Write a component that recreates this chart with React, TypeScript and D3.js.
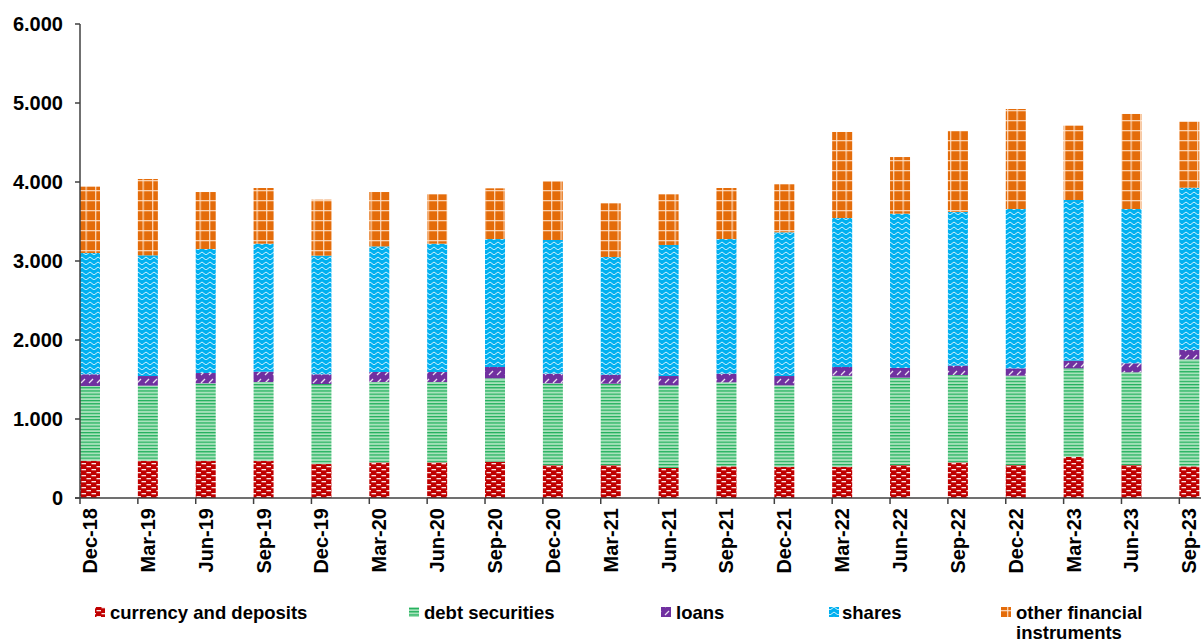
import React from "react";
import * as d3 from "d3";

const categories = [
  "Dec-18", "Mar-19", "Jun-19", "Sep-19", "Dec-19", "Mar-20", "Jun-20", "Sep-20", "Dec-20", "Mar-21",
  "Jun-21", "Sep-21", "Dec-21", "Mar-22", "Jun-22", "Sep-22", "Dec-22", "Mar-23", "Jun-23", "Sep-23",
];
const currencyDeposits = [472, 472, 472, 472, 430, 450, 450, 460, 414, 414, 380, 400, 395, 395, 415, 450, 415, 520, 415, 400];
const debtSecurities = [946, 950, 980, 996, 1013, 1018, 1018, 1055, 1038, 1033, 1046, 1064, 1031, 1151, 1108, 1107, 1133, 1121, 1176, 1356];
const loans = [148, 122, 130, 131, 123, 127, 127, 143, 122, 114, 118, 110, 118, 112, 123, 118, 93, 97, 114, 117];
const shares = [1535, 1528, 1570, 1620, 1502, 1590, 1624, 1620, 1692, 1490, 1659, 1704, 1819, 1886, 1953, 1945, 2017, 2034, 1953, 2055];
const otherInstruments = [840, 966, 721, 705, 708, 688, 625, 642, 742, 679, 641, 646, 608, 1089, 717, 1026, 1266, 941, 1203, 835];
const yTicks = [0, 1000, 2000, 3000, 4000, 5000, 6000];

const seriesKeys = ["currency", "debt", "loans", "shares", "other"];
const seriesLabels = ["currency and deposits", "debt securities", "loans", "shares", "other financial instruments"];

const W = 1201;
const H = 641;
const FONT = "'Liberation Sans', Arial, sans-serif";

const locale = d3.formatLocale({ decimal: ",", thousands: ".", grouping: [3], currency: ["", ""] });
const fmt = locale.format(",");

export default function App() {
  const table = categories.map((c, i) => ({
    cat: c,
    currency: currencyDeposits[i],
    debt: debtSecurities[i],
    loans: loans[i],
    shares: shares[i],
    other: otherInstruments[i],
  }));
  const stacked = d3.stack<any>().keys(seriesKeys)(table);

  const step = 57.86;
  const x = d3.scaleBand<string>().domain(categories).range([80, 80 + step * categories.length]).paddingInner(0).paddingOuter(0);
  const y = d3.scaleLinear().domain([0, 6000]).range([498, 24]);
  const barW = 20;

  const legendItems = [
    { key: "currency", mx: 95, tx: 110 },
    { key: "debt", mx: 409, tx: 424 },
    { key: "loans", mx: 661, tx: 676 },
    { key: "shares", mx: 829, tx: 842 },
    { key: "other", mx: 1001, tx: 1016 },
  ];
  const legendY = 612;

  return (
    <>
      <style>{`body{margin:0;}`}</style>
      <svg width={W} height={H} style={{ display: "block", background: "#fff" }}>
        <defs>
          <pattern id="p-currency" patternUnits="userSpaceOnUse" width="10" height="6">
            <rect width="10" height="6" fill="#C00000" />
            <rect x="1.5" y="1" width="4.5" height="1.3" fill="#fff" opacity="0.9" />
            <rect x="-3.5" y="4" width="4.5" height="1.3" fill="#fff" opacity="0.9" />
            <rect x="6.5" y="4" width="4.5" height="1.3" fill="#fff" opacity="0.9" />
          </pattern>
          <pattern id="p-debt" patternUnits="userSpaceOnUse" width="6" height="3.2">
            <rect width="6" height="3.2" fill="#8ED9A8" />
            <rect y="0" width="6" height="1.1" fill="#1DAE5A" />
            <rect y="2.1" width="6" height="0.6" fill="#fff" opacity="0.6" />
          </pattern>
          <pattern id="p-loans" patternUnits="userSpaceOnUse" width="8" height="8">
            <rect width="8" height="8" fill="#7030A0" />
            <line x1="1" y1="7" x2="5" y2="3" stroke="#fff" strokeWidth="1.2" opacity="0.85" />
          </pattern>
          <pattern id="p-shares" patternUnits="userSpaceOnUse" width="8" height="5">
            <rect width="8" height="5" fill="#00B0F0" />
            <path d="M0,3.5 Q2,0.5 4,3.5 T8,3.5" stroke="#fff" strokeWidth="0.9" fill="none" opacity="0.9" />
          </pattern>
          <pattern id="p-other" patternUnits="userSpaceOnUse" width="9.5" height="10">
            <rect width="9.5" height="10" fill="#E46C0A" />
            <rect x="0" y="0" width="1.3" height="10" fill="#FFE3CC" opacity="0.85" />
            <rect x="0" y="0" width="9.5" height="1.3" fill="#FFE3CC" opacity="0.85" />
          </pattern>
        </defs>

        {stacked.map((s) => (
          <g key={s.key} fill={`url(#p-${s.key})`}>
            {s.map((d, i) => (
              <rect
                key={i}
                x={x(categories[i])!}
                y={y(d[1])}
                width={barW}
                height={y(d[0]) - y(d[1])}
              />
            ))}
          </g>
        ))}

        {/* y axis */}
        <line x1={80} x2={80} y1={y(6000)} y2={y(0)} stroke="#404040" strokeWidth={1.5} />
        {yTicks.map((t) => (
          <g key={t}>
            <line x1={75} x2={80} y1={y(t)} y2={y(t)} stroke="#404040" strokeWidth={1.5} />
            <text
              x={63}
              y={y(t)}
              textAnchor="end"
              dominantBaseline="central"
              fontFamily={FONT}
              fontWeight="bold"
              fontSize={20}
              fill="#000"
            >
              {fmt(t)}
            </text>
          </g>
        ))}

        {/* x axis */}
        <line x1={75} x2={W} y1={y(0)} y2={y(0)} stroke="#404040" strokeWidth={1.5} />
        {categories.map((c) => (
          <g key={c}>
            <line x1={x(c)!} x2={x(c)!} y1={y(0)} y2={y(0) + 6} stroke="#404040" strokeWidth={1.5} />
            <text
              transform={`translate(${x(c)! + barW / 2},508) rotate(-90)`}
              textAnchor="end"
              dominantBaseline="central"
              fontFamily={FONT}
              fontWeight="bold"
              fontSize={20}
              fill="#000"
            >
              {c}
            </text>
          </g>
        ))}

        {/* legend */}
        {legendItems.map((l, i) => (
          <g key={l.key}>
            <rect x={l.mx} y={legendY - 5} width={10} height={10} fill={`url(#p-${l.key})`} />
            {l.key === "other" ? (
              <text x={l.tx} y={legendY} dominantBaseline="central" fontFamily={FONT} fontWeight="bold" fontSize={18.5} fill="#000">
                <tspan x={l.tx}>other financial</tspan>
                <tspan x={l.tx} dy={19.5}>instruments</tspan>
              </text>
            ) : (
              <text x={l.tx} y={legendY} dominantBaseline="central" fontFamily={FONT} fontWeight="bold" fontSize={18.5} fill="#000">
                {seriesLabels[i]}
              </text>
            )}
          </g>
        ))}
      </svg>
    </>
  );
}
